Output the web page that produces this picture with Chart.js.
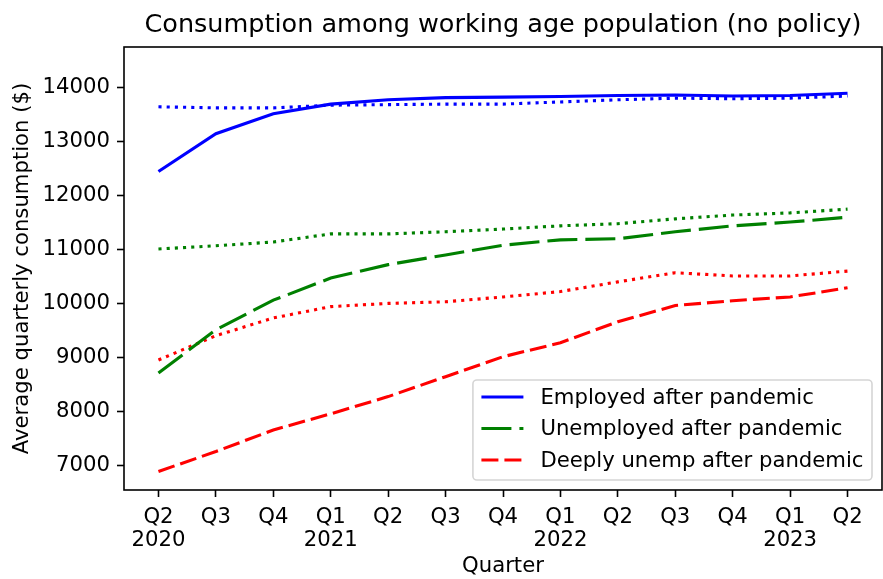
<!DOCTYPE html>
<html lang="en">
<head>
    <meta charset="UTF-8">
    <script src="https://cdn.jsdelivr.net/npm/chart.js@4.4.1/dist/chart.umd.min.js"></script>
    <title>Consumption among working age population (no policy)</title>
    <style>
        body {
            margin: 0;
            padding: 0;
            background-color: #fff;
        }
        #chart {
            display: block;
        }
    </style>
</head>
<body>
    <canvas id="chart" width="883" height="579"></canvas>
    <script>
        // tick labels for the x axis (one per quarter)
        const quarters = [
            ['Q2', '2020'], 'Q3', 'Q4', ['Q1', '2021'], 'Q2', 'Q3', 'Q4',
            ['Q1', '2022'], 'Q2', 'Q3', 'Q4', ['Q1', '2023'], 'Q2'
        ];
        const yTicks = [7000, 8000, 9000, 10000, 11000, 12000, 13000, 14000];

        // after pandemic (legend lines)
        const employed   = [12450, 13150, 13520, 13700, 13780, 13820, 13830, 13840, 13860, 13870, 13850, 13860, 13900];
        const unemployed = [8710, 9510, 10060, 10470, 10720, 10900, 11080, 11180, 11200, 11330, 11440, 11510, 11600];
        const deeply     = [6880, 7250, 7650, 7950, 8270, 8640, 9010, 9270, 9660, 9960, 10050, 10120, 10290];

        // dotted comparison lines
        const employedBase   = [13650, 13630, 13630, 13680, 13690, 13700, 13700, 13740, 13780, 13810, 13800, 13810, 13850];
        const unemployedBase = [11010, 11070, 11140, 11290, 11290, 11330, 11380, 11440, 11480, 11570, 11640, 11680, 11750];
        const deeplyBase     = [8950, 9400, 9730, 9940, 10000, 10030, 10120, 10220, 10400, 10570, 10510, 10510, 10600];

        const legendLabels = ['Employed after pandemic', 'Unemployed after pandemic', 'Deeply unemp after pandemic'];

        const FONT = 'DejaVu Sans';
        const FS = 21.2;
        const dotted = [3.1, 5.1];

        function pts(arr) {
            return arr.map((v, i) => ({ x: i, y: v }));
        }

        function line(label, arr, color, dash, inLegend) {
            return {
                label: label,
                data: pts(arr),
                borderColor: color,
                backgroundColor: color,
                borderWidth: 3.1,
                borderDash: dash,
                borderCapStyle: 'butt',
                pointRadius: 0,
                tension: 0,
                fill: false,
                inLegend: inLegend
            };
        }

        // frame, title and legend drawn like the matplotlib figure
        const decorations = {
            id: 'decorations',
            afterDraw(chart) {
                const ctx = chart.ctx;
                const a = chart.chartArea;
                ctx.save();

                ctx.strokeStyle = '#000';
                ctx.lineWidth = 1.6;
                ctx.strokeRect(a.left, a.top, a.right - a.left, a.bottom - a.top);

                ctx.fillStyle = '#000';
                ctx.font = '25.5px "' + FONT + '"';
                ctx.textAlign = 'center';
                ctx.textBaseline = 'middle';
                ctx.fillText('Consumption among working age population (no policy)', (a.left + a.right) / 2, 25);

                // legend
                ctx.font = FS + 'px "' + FONT + '"';
                const items = chart.data.datasets.filter(d => d.inLegend);
                let tw = 0;
                items.forEach(d => { tw = Math.max(tw, ctx.measureText(d.label).width); });
                const pad = 8.5, handle = 42, gap = 17;
                const boxW = pad + handle + gap + tw + pad;
                const boxH = 100;
                const bx = a.right - 10 - boxW;
                const by = a.bottom - 10 - boxH;
                ctx.beginPath();
                ctx.roundRect(bx, by, boxW, boxH, 4);
                ctx.fillStyle = 'rgba(255,255,255,0.8)';
                ctx.fill();
                ctx.strokeStyle = '#d5d5d5';
                ctx.lineWidth = 1.6;
                ctx.stroke();

                items.forEach((d, i) => {
                    const y = by + 17 + i * 31.5;
                    ctx.beginPath();
                    ctx.setLineDash(d.borderDash || []);
                    ctx.lineWidth = d.borderWidth;
                    ctx.strokeStyle = d.borderColor;
                    ctx.moveTo(bx + pad, y);
                    ctx.lineTo(bx + pad + handle, y);
                    ctx.stroke();
                    ctx.setLineDash([]);
                    ctx.fillStyle = '#000';
                    ctx.textAlign = 'left';
                    ctx.fillText(d.label, bx + pad + handle + gap, y + 1);
                });
                ctx.restore();
            }
        };

        const ctx = document.getElementById('chart').getContext('2d');
        new Chart(ctx, {
            type: 'line',
            data: {
                datasets: [
                    line(legendLabels[0], employed, '#0000ff', [], true),
                    line(legendLabels[1], unemployed, '#008000', [30, 8], true),
                    line(legendLabels[2], deeply, '#ff0000', [17, 6], true),
                    line('Employed (dotted)', employedBase, '#0000ff', dotted, false),
                    line('Unemployed (dotted)', unemployedBase, '#008000', dotted, false),
                    line('Deeply unemp (dotted)', deeplyBase, '#ff0000', dotted, false)
                ]
            },
            options: {
                responsive: false,
                animation: false,
                layout: { padding: { top: 47, right: 1, bottom: 0, left: 0 } },
                plugins: {
                    legend: { display: false },
                    title: { display: false },
                    tooltip: { enabled: false }
                },
                scales: {
                    x: {
                        type: 'linear',
                        min: -0.6,
                        max: 12.6,
                        afterBuildTicks: (axis) => {
                            axis.ticks = quarters.map((q, i) => ({ value: i }));
                        },
                        afterFit: (axis) => { axis.height = 89; },
                        grid: { drawOnChartArea: false, tickLength: 7, color: '#000', tickWidth: 1.6 },
                        border: { display: false },
                        ticks: {
                            autoSkip: false,
                            maxRotation: 0,
                            padding: 9,
                            color: '#000',
                            font: { family: FONT, size: FS, lineHeight: 1.1 },
                            callback: (v) => quarters[v]
                        },
                        title: {
                            display: true,
                            text: 'Quarter',
                            color: '#000',
                            font: { family: FONT, size: FS },
                            padding: { top: 0, bottom: 0 }
                        }
                    },
                    y: {
                        min: 6536,
                        max: 14760,
                        afterBuildTicks: (axis) => {
                            axis.ticks = yTicks.map(v => ({ value: v }));
                        },
                        afterFit: (axis) => { axis.width = 124; },
                        grid: { drawOnChartArea: false, tickLength: 7, color: '#000', tickWidth: 1.6 },
                        border: { display: false },
                        ticks: {
                            padding: 7,
                            color: '#000',
                            font: { family: FONT, size: FS },
                            callback: (v) => String(v)
                        },
                        title: {
                            display: true,
                            text: 'Average quarterly consumption ($)',
                            color: '#000',
                            font: { family: FONT, size: FS },
                            padding: { top: 10, bottom: 0 }
                        }
                    }
                }
            },
            plugins: [decorations]
        });
    </script>
</body>
</html>
